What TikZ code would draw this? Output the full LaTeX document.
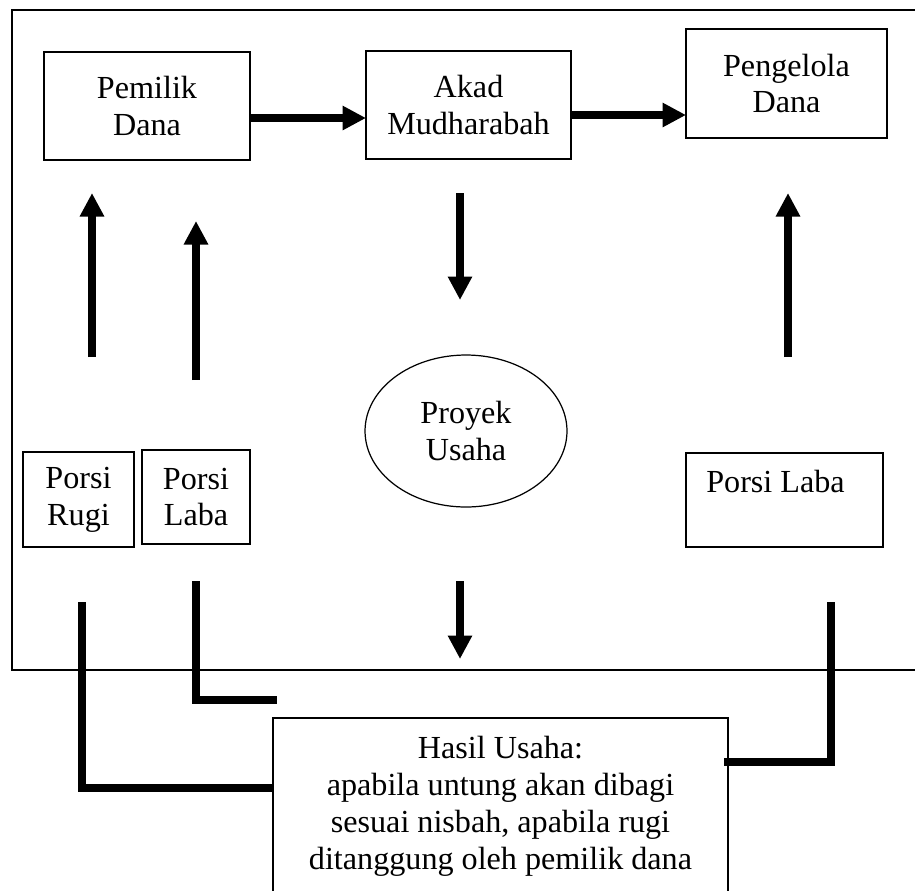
\documentclass[tikz,border=0pt]{standalone}
\usepackage{fontspec}
\setmainfont{Liberation Serif}
\usepackage{tikz}
\usetikzlibrary{arrows.meta, calc, shapes.geometric}

\begin{document}
\begin{tikzpicture}[x=0.02cm, y=-0.02cm,
    box/.style={draw, line width=1pt, inner sep=0pt, outer sep=0pt, align=center,
                font=\fontsize{18.3}{21}\selectfont},
    oval/.style={draw, ellipse, line width=0.7pt, inner sep=0pt, outer sep=0pt,
                 align=center, font=\fontsize{18.3}{21}\selectfont},
    arr/.style={line width=0.155cm, -{Triangle[width=0.46cm, length=0.47cm]}},
    link/.style={line width=0.16cm},
    frame/.style={line width=0.8pt},
  ]
    \clip (0,0) rectangle (915,890);
    % outer frame, open on the right
    \draw[frame] (915,10) -- (12,10) -- (12,670) -- (915,670);

    \node[box, minimum width=4.12cm, minimum height=2.16cm] (pemilik) at (147,106)
      {Pemilik\\Dana};
    \node[box, minimum width=4.10cm, minimum height=2.16cm] (akad) at (468.5,105)
      {Akad\\Mudharabah};
    \node[box, minimum width=4.02cm, minimum height=2.18cm] (pengelola) at (786.5,83.5)
      {Pengelola\\Dana};
    \node[oval, minimum width=4.04cm, minimum height=3.04cm] (proyek) at (466,431)
      {Proyek\\Usaha};
    \node[box, minimum width=2.22cm, minimum height=1.90cm] (rugi) at (78.5,499.5)
      {Porsi\\Rugi};
    \node[box, minimum width=2.16cm, minimum height=1.88cm] (labaKiri) at (196,497)
      {Porsi\\Laba};
    \node[box, minimum width=3.94cm, minimum height=1.88cm] (labaKanan) at (784.5,500)
      {Porsi Laba\hspace*{0.36cm}\\~};
    \node[box, line width=0.7pt, minimum width=9.10cm, minimum height=3.52cm] (hasil) at (500.5,806)
      {Hasil Usaha:\\apabila untung akan dibagi\\sesuai nisbah, apabila rugi\\ditanggung oleh pemilik dana};

    % free arrow ends
    \coordinate (upRugiA) at (92,357);   \coordinate (upRugiB) at (92,193);
    \coordinate (upLabaA) at (196,380);  \coordinate (upLabaB) at (196,221);
    \coordinate (upKananA) at (788,357); \coordinate (upKananB) at (788,193);
    \coordinate (turunA) at (460,193);   \coordinate (turunB) at (460,300);
    \coordinate (hasilA) at (460,581);   \coordinate (hasilB) at (460,659);

    \draw[arr] ($(pemilik.east)+(0,12)$) -- ($(akad.west)+(0,13)$);
    \draw[arr] ($(akad.east)+(0,10)$) -- ($(pengelola.west)+(0,31.5)$);
    \draw[arr] (turunA) -- (turunB);
    \draw[arr] (hasilA) -- (hasilB);
    \draw[arr] (upRugiA) -- (upRugiB);
    \draw[arr] (upLabaA) -- (upLabaB);
    \draw[arr] (upKananA) -- (upKananB);

    % lines up from the result box
    \coordinate (rugiKaki) at (82,602);
    \coordinate (labaKaki) at (196,581);
    \coordinate (kananKaki) at (831,602);
    \draw[link] (rugiKaki) |- ($(hasil.north west)+(0,70)$);
    \draw[link] (labaKaki) |- ($(hasil.north west)+(4,-18)$);
    \draw[link] (kananKaki) |- ($(hasil.north east)+(-4,44)$);
  \end{tikzpicture}
\end{document}
